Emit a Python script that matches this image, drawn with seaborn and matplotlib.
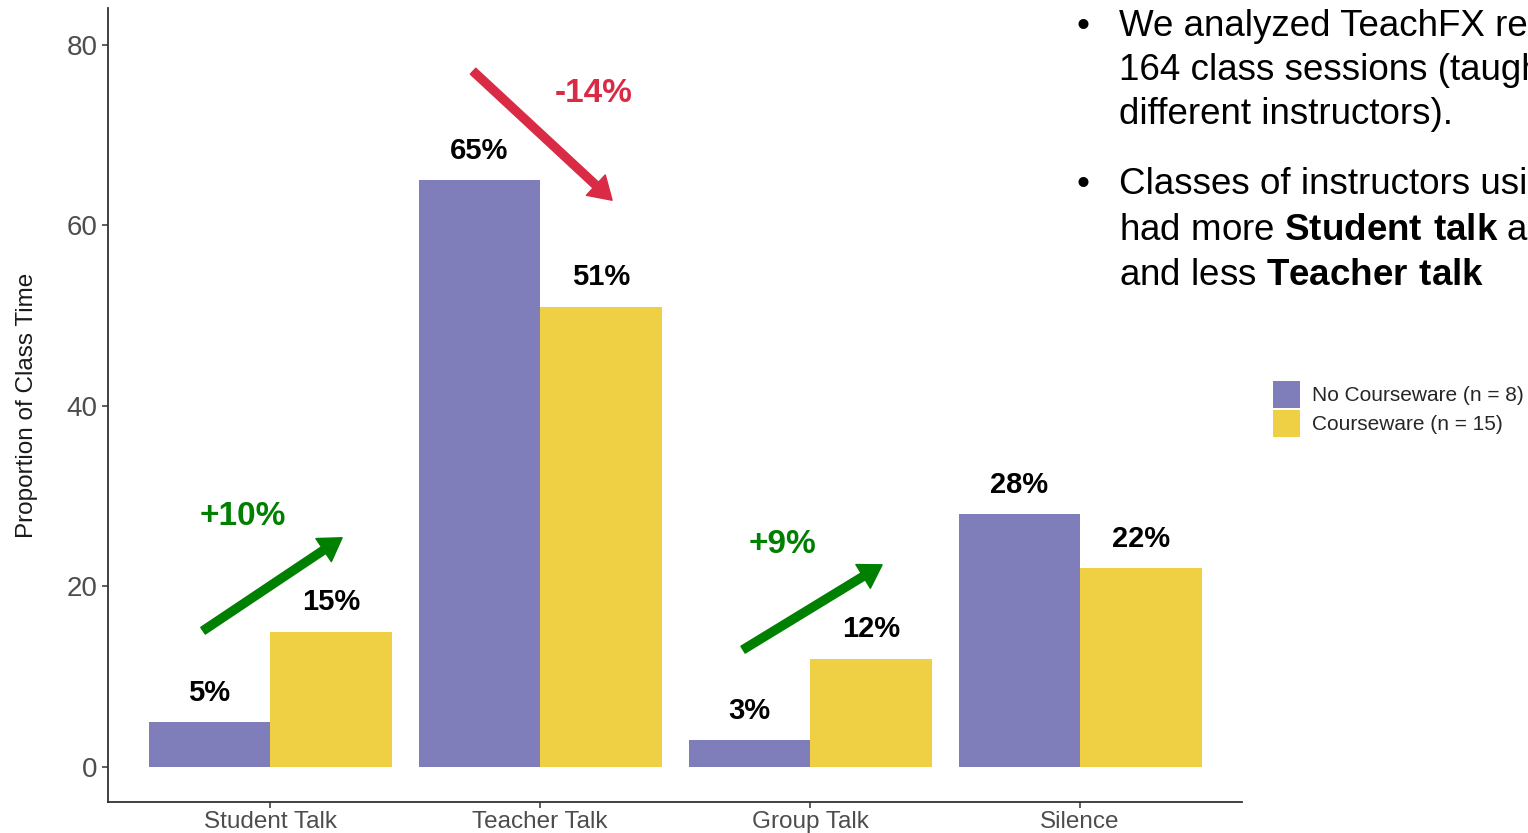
import numpy as np
import pandas as pd
import matplotlib
matplotlib.use("Agg")
import matplotlib.pyplot as plt
import seaborn as sns

# ---- data -------------------------------------------------------------
categories = ["Student Talk", "Teacher Talk", "Group Talk", "Silence"]
groups = ["No Courseware (n = 8)", "Courseware (n = 15)"]
no_courseware = [5, 65, 3, 28]
courseware = [15, 51, 12, 22]
y_ticks = [0, 20, 40, 60, 80]

bullet_lines = [
    ["We analyzed TeachFX re", "164 class sessions (taugh", "different instructors)."],
    ["Classes of instructors usin",
     r"had more $\mathbf{Student\ talk}$ an",
     r"and less $\mathbf{Teacher\ talk}$"],
]

# ---- style -------------------------------------------------------------
PURPLE = "#7F7EBA"
YELLOW = "#EFD045"
GREEN = "#008000"
RED = "#D92B45"
TICK_GREY = "#4D4D4D"

sns.set_theme(style="ticks")
plt.rcParams["font.family"] = ["Liberation Sans", "DejaVu Sans"]
plt.rcParams["mathtext.fontset"] = "custom"
plt.rcParams["mathtext.rm"] = "Liberation Sans"
plt.rcParams["mathtext.bf"] = "Liberation Sans:bold"

W, H = 1528, 833
fig = plt.figure(figsize=(W / 100, H / 100), dpi=100)
ax = fig.add_axes([108 / W, 31 / H, 1134 / W, 794 / H])

df = pd.DataFrame({
    "category": categories * 2,
    "group": [groups[0]] * len(categories) + [groups[1]] * len(categories),
    "value": no_courseware + courseware,
})

sns.barplot(
    data=df, x="category", y="value", hue="group",
    order=categories, hue_order=groups,
    palette=[PURPLE, YELLOW], saturation=1,
    width=0.9, gap=0, errorbar=None, linewidth=0, ax=ax,
)

ax.set_xlim(-0.6, 3.6)
ax.set_ylim(-3.88, 84.1)
ax.set_yticks(y_ticks)
ax.set_xlabel("")
ax.set_ylabel("Proportion of Class Time", fontsize=17.5, color="#1A1A1A")
ax.yaxis.set_label_coords(-0.062, 0.5)

sns.despine(ax=ax)
for side in ("left", "bottom"):
    ax.spines[side].set_color("#333333")
    ax.spines[side].set_linewidth(1.3)
ax.tick_params(axis="both", direction="out", length=4.3, width=1.1, color="#333333")
ax.tick_params(axis="y", labelsize=20, labelcolor=TICK_GREY, pad=3)
ax.tick_params(axis="x", labelsize=17.5, labelcolor=TICK_GREY, pad=2)

# value labels above each bar
for container, vals in zip(ax.containers, [no_courseware, courseware]):
    ax.bar_label(container, labels=[f"{v}%" for v in vals], padding=11,
                 fontsize=21, fontweight="bold", color="black")

# change arrows: (category index, tail y, head y, label x offset, label y)
change_marks = [
    (0, 15.1, 25.4, -0.10, 27.7),
    (1, 77.1, 62.8, 0.20, 74.6),
    (2, 13.0, 22.4, -0.10, 24.6),
]
for i, y0, y1, lx, ly in change_marks:
    delta = courseware[i] - no_courseware[i]
    col = GREEN if delta > 0 else RED
    ax.annotate("", xy=(i + 0.267, y1), xytext=(i - 0.248, y0),
                arrowprops=dict(color=col, width=5.8, headwidth=20,
                                headlength=16, shrink=0))
    ax.text(i + lx, ly, f"{delta:+d}%", ha="center", va="center",
            fontsize=24, fontweight="bold", color=col)

# legend
handles, labels = ax.get_legend_handles_labels()
ax.legend(handles, labels, loc="upper left",
          bbox_to_anchor=(1273 / W, 1 - 381 / H), bbox_transform=fig.transFigure,
          frameon=False, fontsize=15, handlelength=1.3, handleheight=1.6,
          labelspacing=0.12, handletextpad=0.55, borderpad=0, borderaxespad=0)

# bullet notes on the right
baselines = [[36, 80, 124], [194, 240, 285]]
for para, ys in zip(bullet_lines, baselines):
    fig.text(1083 / W, 1 - ys[0] / H, "\u2022", ha="center", va="baseline",
             fontsize=26.5, color="black")
    for line, y in zip(para, ys):
        fig.text(1119 / W, 1 - y / H, line, ha="left", va="baseline",
                 fontsize=26.5, color="black")

fig.savefig("out.png", dpi=100)
